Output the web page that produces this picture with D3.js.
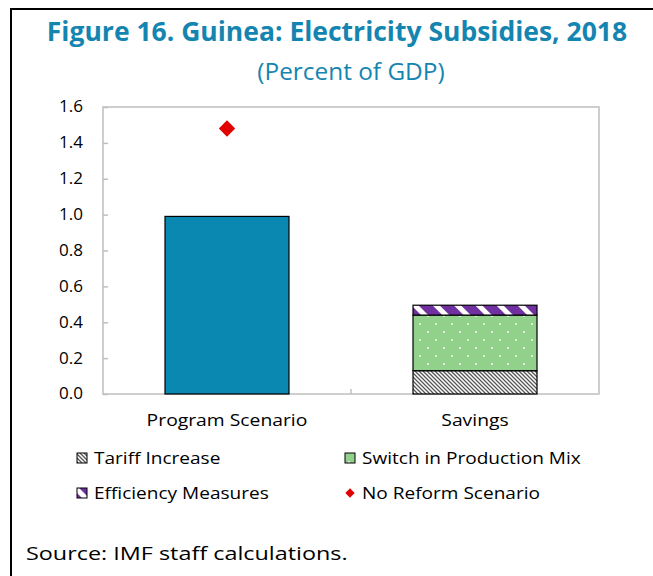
<!DOCTYPE html>
<html>
<head>
<meta charset="utf-8">
<script src="https://cdn.jsdelivr.net/npm/d3@7"></script>
<style>
  body { margin: 0; background: #fff; }
  svg { display: block; font-family: 'Open Sans', 'Noto Sans', sans-serif; }
</style>
</head>
<body>
<div id="chart-container"></div>
<script>
// Chart data
const categories = ['Program Scenario', 'Savings'];
const programScenario = [0.99, 0]; // solid bar
const tariffIncrease = [0, 0.13];
const switchProductionMix = [0, 0.31];
const efficiencyMeasures = [0, 0.055];
const noReformScenario = [1.48, null];
const yTicks = [0, 0.2, 0.4, 0.6, 0.8, 1.0, 1.2, 1.4, 1.6];

const width = 653;
const height = 576;
const margin = { top: 107, right: 54, bottom: 182, left: 103 };

const titleColor = '#1485b0';
const programColor = '#0a8ab3';
const greenColor = '#92d18b';
const purpleColor = '#7030a0';
const axisColor = '#bfbfbf';

// widen a text horizontally by factor k (source font is wider than ours)
function stretch(sel, k) {
  sel.each(function () {
    const w = this.getComputedTextLength();
    d3.select(this)
      .attr('textLength', w * k)
      .attr('lengthAdjust', 'spacingAndGlyphs');
  });
}

const svg = d3
  .select('#chart-container')
  .append('svg')
  .attr('width', width)
  .attr('height', height);

// patterns
const defs = svg.append('defs');

const pBlue = defs.append('pattern')
  .attr('id', 'pat-blue')
  .attr('patternUnits', 'userSpaceOnUse')
  .attr('width', 4).attr('height', 4);
pBlue.append('rect').attr('width', 4).attr('height', 4).attr('fill', programColor);
pBlue.append('path').attr('d', 'M0,0 L4,4').attr('stroke', '#0883ab').attr('stroke-width', 1);

const pTariff = defs.append('pattern')
  .attr('id', 'pat-tariff')
  .attr('patternUnits', 'userSpaceOnUse')
  .attr('width', 4).attr('height', 4);
pTariff.append('rect').attr('width', 4).attr('height', 4).attr('fill', '#fff');
pTariff.append('path')
  .attr('d', 'M-1,-1 L5,5 M-1,3 L1,5 M3,-1 L5,1')
  .attr('stroke', '#555').attr('stroke-width', 1.3);

const pGreen = defs.append('pattern')
  .attr('id', 'pat-green')
  .attr('patternUnits', 'userSpaceOnUse')
  .attr('width', 16).attr('height', 16);
pGreen.append('rect').attr('width', 16).attr('height', 16).attr('fill', greenColor);
[[4, 4], [12, 12]].forEach(([cx, cy]) => {
  pGreen.append('circle').attr('cx', cx).attr('cy', cy).attr('r', 0.9).attr('fill', '#fff');
});

const pPurple = defs.append('pattern')
  .attr('id', 'pat-purple')
  .attr('patternUnits', 'userSpaceOnUse')
  .attr('width', 15).attr('height', 15)
  .attr('patternTransform', 'rotate(-45)');
pPurple.append('rect').attr('width', 15).attr('height', 15).attr('fill', purpleColor);
pPurple.append('rect').attr('x', 0).attr('width', 5).attr('height', 15).attr('fill', '#fff');

// frame
svg.append('path')
  .attr('d', `M${width},9 L11,9 L11,${height}`)
  .attr('fill', 'none')
  .attr('stroke', '#000')
  .attr('stroke-width', 2);

// titles
svg.append('text')
  .attr('x', 337).attr('y', 41)
  .attr('text-anchor', 'middle')
  .attr('fill', titleColor)
  .attr('font-weight', 'bold')
  .attr('font-size', 26.5)
  .text('Figure 16. Guinea: Electricity Subsidies, 2018');

svg.append('text')
  .attr('x', 351).attr('y', 80)
  .attr('text-anchor', 'middle')
  .attr('fill', titleColor)
  .attr('font-size', 23)
  .text('(Percent of GDP)')
  .call(stretch, 1.06);

// scales
const x = d3.scaleBand()
  .domain(categories)
  .range([margin.left, width - margin.right])
  .paddingInner(0.5)
  .paddingOuter(0.25);

const xOuter = d3.scaleBand()
  .domain(categories)
  .range([margin.left, width - margin.right]);

const y = d3.scaleLinear()
  .domain([0, 1.6])
  .range([height - margin.bottom, margin.top]);

// plot border
svg.append('rect')
  .attr('x', margin.left)
  .attr('y', margin.top)
  .attr('width', width - margin.left - margin.right)
  .attr('height', height - margin.top - margin.bottom)
  .attr('fill', 'none')
  .attr('stroke', axisColor)
  .attr('stroke-width', 1.5);

// y axis
const yAxis = svg.append('g')
  .attr('transform', `translate(${margin.left},0)`)
  .call(d3.axisRight(y).tickValues(yTicks).tickSize(5).tickFormat(''));
yAxis.select('.domain').remove();
yAxis.selectAll('line').attr('stroke', axisColor).attr('stroke-width', 1.5);

svg.append('g')
  .selectAll('text')
  .data(yTicks)
  .join('text')
  .attr('x', 83)
  .attr('y', (d) => y(d))
  .attr('dy', '0.35em')
  .attr('text-anchor', 'end')
  .attr('font-size', 15.5)
  .attr('fill', '#000')
  .text((d) => d3.format('.1f')(d))
  .call(stretch, 1.1);

// x axis tick between categories
const xAxis = svg.append('g')
  .attr('transform', `translate(0,${y(0)})`)
  .call(d3.axisTop(xOuter).tickSize(5).tickFormat('').tickValues([categories[1]]).offset(0));
xAxis.select('.domain').remove();
xAxis.selectAll('.tick').attr('transform', `translate(${xOuter(categories[1])},0)`);
xAxis.selectAll('line').attr('stroke', axisColor).attr('stroke-width', 1.5);

svg.append('g')
  .selectAll('text')
  .data(categories)
  .join('text')
  .attr('x', (d) => x(d) + x.bandwidth() / 2)
  .attr('y', 426)
  .attr('text-anchor', 'middle')
  .attr('font-size', 16.5)
  .attr('fill', '#000')
  .text((d) => d)
  .call(stretch, 1.17);

// stacked bars
const rows = categories.map((c, i) => ({
  category: c,
  program: programScenario[i],
  tariff: tariffIncrease[i],
  mix: switchProductionMix[i],
  efficiency: efficiencyMeasures[i],
}));
const keys = ['program', 'tariff', 'mix', 'efficiency'];
const fills = {
  program: 'url(#pat-blue)',
  tariff: 'url(#pat-tariff)',
  mix: 'url(#pat-green)',
  efficiency: 'url(#pat-purple)',
};
const series = d3.stack().keys(keys)(rows);

svg.append('g')
  .selectAll('g')
  .data(series)
  .join('g')
  .attr('fill', (s) => fills[s.key])
  .selectAll('rect')
  .data((s) => s.filter((d) => d[1] - d[0] > 0))
  .join('rect')
  .attr('x', (d) => x(d.data.category))
  .attr('width', x.bandwidth())
  .attr('y', (d) => y(d[1]))
  .attr('height', (d) => y(d[0]) - y(d[1]))
  .attr('stroke', '#000')
  .attr('stroke-width', 1.2);

// no reform scenario markers
const diamond = d3.symbol().type(d3.symbolDiamond2).size(170);
svg.append('g')
  .selectAll('path')
  .data(categories.map((c, i) => ({ c, v: noReformScenario[i] })).filter((d) => d.v != null))
  .join('path')
  .attr('transform', (d) => `translate(${x(d.c) + x.bandwidth() / 2},${y(d.v)})`)
  .attr('d', diamond)
  .attr('fill', '#e00000');

// legend
const legendItems = [
  { label: 'Tariff Increase', fill: 'url(#pat-tariff)', lx: 77, ly: 458 },
  { label: 'Switch in Production Mix', fill: 'url(#pat-green)', lx: 345, ly: 458 },
  { label: 'Efficiency Measures', fill: 'url(#pat-purple)', lx: 77, ly: 493 },
  { label: 'No Reform Scenario', marker: true, lx: 345, ly: 493 },
];
const legend = svg.append('g');
legendItems.forEach((d) => {
  const g = legend.append('g').attr('transform', `translate(${d.lx},${d.ly})`);
  if (d.marker) {
    g.append('path')
      .attr('transform', 'translate(5,0)')
      .attr('d', d3.symbol().type(d3.symbolDiamond2).size(55))
      .attr('fill', '#e00000');
  } else {
    g.append('rect')
      .attr('x', 0).attr('y', -5)
      .attr('width', 10).attr('height', 10)
      .attr('fill', d.fill)
      .attr('stroke', '#000')
      .attr('stroke-width', 1);
  }
  g.append('text')
    .attr('x', 17)
    .attr('dy', '0.35em')
    .attr('font-size', 17)
    .attr('fill', '#000')
    .text(d.label)
    .call(stretch, 1.12);
});

// source
svg.append('text')
  .attr('x', 26).attr('y', 560)
  .attr('font-size', 19)
  .attr('fill', '#000')
  .text('Source: IMF staff calculations.')
  .call(stretch, 1.23);
</script>
</body>
</html>
